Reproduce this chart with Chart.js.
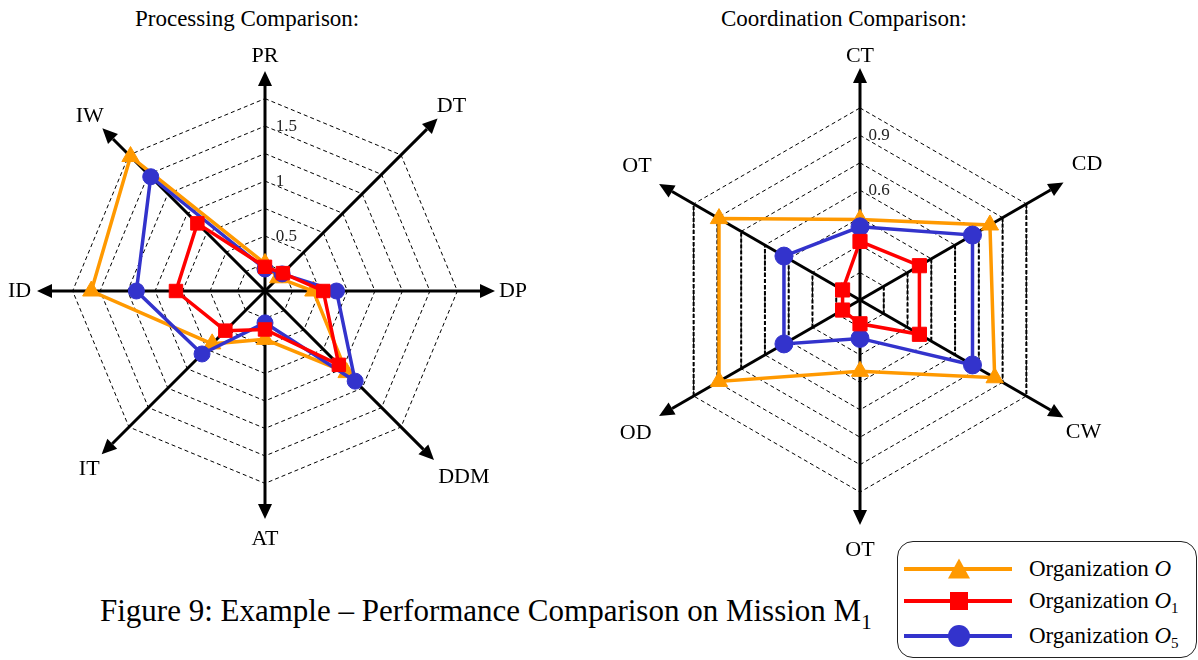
<!DOCTYPE html>
<html>
<head>
<meta charset="utf-8">
<script src="https://cdn.jsdelivr.net/npm/chart.js@4.4.1/dist/chart.umd.min.js"></script>
<style>
  body { margin:0; width:1198px; height:660px; background:#fff; position:relative; overflow:hidden;
         font-family:'Liberation Serif','Times New Roman',serif; color:#000; }
  canvas { position:absolute; }
  #proc { left:-10px; top:20px; }
  #coord { left:580px; top:20px; }
  .title { position:absolute; top:7px; font-size:23px; line-height:23px; white-space:nowrap; }
  #caption { position:absolute; left:100px; top:595px; font-size:31px; line-height:31px; white-space:nowrap; }
  #caption span { font-size:21px; position:relative; top:8px; }
  #legend { position:absolute; left:897px; top:541px; width:298px; height:115px;
            border:1.3px solid #222; border-radius:16px; background:#fff; }
  .row { position:absolute; left:6px; height:30px; display:flex; align-items:center;
         font-size:23px; white-space:nowrap; }
  .row svg { margin-right:17px; }
  .row sub { font-size:15px; vertical-align:-5px; line-height:0; }
</style>
</head>
<body>
<div class="title" style="left:135px">Processing Comparison:</div>
<div class="title" style="left:721px">Coordination Comparison:</div>
<canvas id="proc" width="560" height="560"></canvas>
<canvas id="coord" width="570" height="566"></canvas>
<div id="caption">Figure 9: Example – Performance Comparison on Mission M<span>1</span></div>
<div id="legend">
  <div class="row" style="top:12px">
    <svg width="108" height="30"><line x1="0" y1="15" x2="108" y2="15" stroke="#FF9900" stroke-width="4"/>
      <polygon points="55,4.5 44,24.5 66,24.5" fill="#FF9900"/></svg>
    <div>Organization <i>O</i></div>
  </div>
  <div class="row" style="top:44px">
    <svg width="108" height="30"><line x1="0" y1="15" x2="108" y2="15" stroke="#FF0000" stroke-width="4"/>
      <rect x="46" y="6" width="18" height="18" fill="#FF0000"/></svg>
    <div>Organization <i>O</i><sub>1</sub></div>
  </div>
  <div class="row" style="top:79px">
    <svg width="108" height="30"><line x1="0" y1="15" x2="108" y2="15" stroke="#3333CC" stroke-width="4"/>
      <circle cx="55" cy="15" r="11" fill="#3333CC"/></svg>
    <div>Organization <i>O</i><sub>5</sub></div>
  </div>
</div>
<script>
// processing comparison (left)
const procLabels = ['PR', 'DT', 'DP', 'DDM', 'AT', 'IT', 'ID', 'IW'];
const procO  = [0.25, 0.17, 0.44, 1.05, 0.44, 0.68, 1.58, 1.73];
const procO1 = [0.22, 0.23, 0.53, 0.95, 0.35, 0.51, 0.81, 0.87];
const procO5 = [0.20, 0.22, 0.65, 1.16, 0.29, 0.81, 1.17, 1.47];
const procTicks = [0.5, 1, 1.5];

// coordination comparison (right)
const coordLabels = ['CT', 'CD', 'CW', 'OT', 'OD', 'OT'];
const coordO  = [0.44, 0.82, 0.85, 0.39, 0.89, 0.89];
const coordO1 = [0.32, 0.375, 0.375, 0.13, 0.11, 0.11];
const coordO5 = [0.40, 0.71, 0.71, 0.21, 0.48, 0.48];
const coordTicks = [0.6, 0.9];

const colO = '#FF9900', colO1 = '#FF0000', colO5 = '#3333CC';

Chart.defaults.font.family = "'Liberation Serif','Times New Roman',serif";

// black axes with arrow heads (and the heavier vertical grid edges), under the data
const axisArrows = {
  id: 'axisArrows',
  beforeDatasetsDraw(chart, args, opts) {
    const r = chart.scales.r;
    const ctx = chart.ctx;
    ctx.save();
    if (opts.boldEdges) {
      ctx.strokeStyle = '#000';
      ctx.lineWidth = 2;
      ctx.setLineDash([4, 2]);
      r.ticks.forEach(t => {
        const d = r.getDistanceFromCenterForValue(t.value);
        if (d <= 0) return;
        opts.boldEdges.forEach(([a, b]) => {
          const p = r.getPointPosition(a, d), q = r.getPointPosition(b, d);
          ctx.beginPath();
          ctx.moveTo(p.x, p.y);
          ctx.lineTo(q.x, q.y);
          ctx.stroke();
        });
      });
      ctx.setLineDash([]);
    }
    ctx.strokeStyle = '#000';
    ctx.fillStyle = '#000';
    ctx.lineWidth = 3;
    opts.lengths.forEach((len, i) => {
      const tip = r.getPointPosition(i, len);
      const base = r.getPointPosition(i, len - 15);
      const a = Math.atan2(tip.y - r.yCenter, tip.x - r.xCenter);
      const nx = -Math.sin(a) * 7, ny = Math.cos(a) * 7;
      ctx.beginPath();
      ctx.moveTo(r.xCenter, r.yCenter);
      ctx.lineTo(base.x, base.y);
      ctx.stroke();
      ctx.beginPath();
      ctx.moveTo(tip.x, tip.y);
      ctx.lineTo(base.x + nx, base.y + ny);
      ctx.lineTo(base.x - nx, base.y - ny);
      ctx.closePath();
      ctx.fill();
    });
    ctx.restore();
  }
};

// tick labels sit right of the axis, so pad with spaces (label is centred)
function tickText(value, shown, offset, size) {
  const hit = shown.find(t => Math.abs(t - value) < 1e-6);
  if (hit === undefined) return '';
  const s = String(hit);
  let w = 0;
  for (const ch of s) w += ch === '.' ? 0.25 : 0.5;
  const n = Math.round((2 * offset + w * size) / (0.25 * size));
  return ' '.repeat(n) + s;
}

function ds(label, data, color, style, radius, order) {
  return {
    label, data, order,
    borderColor: color, backgroundColor: color,
    borderWidth: 3.5, fill: false, tension: 0,
    pointStyle: style, pointRadius: radius, pointBorderWidth: 1,
    pointBackgroundColor: color, pointBorderColor: color
  };
}

function radar(id, labels, sets, max, step, shown, tickOffset, labelPad, arrows, padding) {
  return new Chart(document.getElementById(id), {
    type: 'radar',
    data: { labels, datasets: sets },
    options: {
      responsive: false,
      animation: false,
      events: [],
      layout: { padding },
      plugins: { legend: { display: false }, tooltip: { enabled: false }, axisArrows: arrows },
      scales: {
        r: {
          min: 0, max,
          angleLines: { display: false },
          grid: { color: '#000', lineWidth: 1, circular: false, borderDash: [4, 3] },
          border: { dash: [4, 3] },
          ticks: {
            stepSize: step, showLabelBackdrop: false, color: '#222', font: { size: 17 },
            callback: v => tickText(v, shown, tickOffset, 17)
          },
          pointLabels: { color: '#000', font: { size: 22 }, padding: c => labelPad[c.index] }
        }
      }
    },
    plugins: [axisArrows]
  });
}

radar('proc', procLabels, [
    ds('Organization O', procO, colO, 'triangle', 10, 3),
    ds('Organization O1', procO1, colO1, 'rect', 9.5, 1),
    ds('Organization O5', procO5, colO5, 'circle', 8, 2)
  ], 1.75, 0.25, procTicks, 10,
  [19, 40, 31, 42, 32, 31, 31, 25],
  { lengths: [220, 244, 230, 239, 228, 231, 228, 230] },
  { left: 16, top: 16, right: 20, bottom: 20 });

radar('coord', coordLabels, [
    ds('Organization O', coordO, colO, 'triangle', 10, 3),
    ds('Organization O1', coordO1, colO1, 'rect', 10, 1),
    ds('Organization O5', coordO5, colO5, 'circle', 9, 2)
  ], 1.05, 0.15, coordTicks, 8,
  [28, 42, 35, 34, 38, 38],
  { lengths: [232, 235, 235, 225, 232, 232], boldEdges: [[1, 2], [4, 5]] },
  { left: 19, top: 20, right: 25, bottom: 20 });
</script>
</body>
</html>
